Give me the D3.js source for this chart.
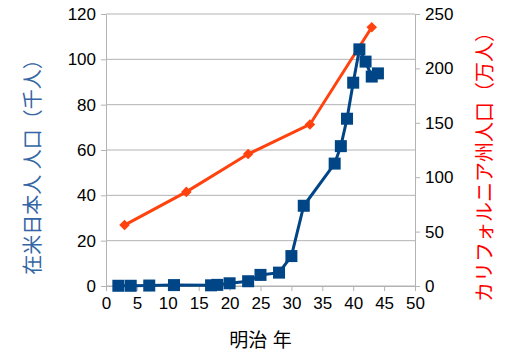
<!DOCTYPE html>
<html>
<head>
<meta charset="utf-8">
<script src="https://cdn.jsdelivr.net/npm/d3@7"></script>
<style>
  body { margin: 0; background: #fff; }
  text { font-family: "Liberation Sans", "Noto Sans CJK JP", sans-serif; }
</style>
</head>
<body>
<div id="chart"></div>
<script>
// 在米日本人 人口 (千人) by 明治 year
const jpYears = [2, 4, 7, 11, 17, 18, 20, 23, 25, 28, 30, 32, 37, 38, 39, 40, 41, 42, 43, 44];
const jpPop = [0.1, 0.1, 0.2, 0.4, 0.3, 0.5, 1.2, 2.1, 4.9, 5.9, 13.2, 35.4, 54, 61.7, 73.8, 89.7, 104.4, 99, 92.4, 93.8];

// カリフォルニア州人口 (万人)
const caYears = [3, 13, 23, 33, 43];
const caPop = [56, 86.5, 121.3, 148.5, 237.8];

const xTicks = [0, 5, 10, 15, 20, 25, 30, 35, 40, 45, 50];
const yLeftTicks = [0, 20, 40, 60, 80, 100, 120];
const yRightTicks = [0, 50, 100, 150, 200, 250];

const width = 507, height = 362;
const margin = { top: 14, right: 92, bottom: 76, left: 106 };
const w = width - margin.left - margin.right;
const h = height - margin.top - margin.bottom;

const svg = d3.select('#chart').append('svg')
    .attr('width', width)
    .attr('height', height);

const g = svg.append('g')
    .attr('transform', 'translate(' + margin.left + ',' + margin.top + ')');

const x = d3.scaleLinear().domain([0, 50]).range([0, w]);
const yL = d3.scaleLinear().domain([0, 120]).range([h, 0]);
const yR = d3.scaleLinear().domain([0, 250]).range([h, 0]);

// gridlines
g.selectAll('.grid')
    .data(yLeftTicks)
    .enter()
    .append('line')
    .attr('x1', 0).attr('x2', w)
    .attr('y1', d => yL(d)).attr('y2', d => yL(d))
    .attr('stroke', '#b3b3b3')
    .attr('stroke-width', 1);

function styleAxis(sel) {
    sel.select('.domain').attr('stroke', '#b3b3b3');
    sel.selectAll('.tick line').attr('stroke', '#b3b3b3');
    sel.selectAll('text')
        .attr('fill', '#000')
        .style('font-size', '17px');
}

g.append('g')
    .attr('transform', 'translate(0,' + h + ')')
    .call(d3.axisBottom(x).tickValues(xTicks).tickSize(5).tickSizeOuter(0).tickPadding(6))
    .call(styleAxis);

g.append('g')
    .call(d3.axisLeft(yL).tickValues(yLeftTicks).tickSize(5).tickSizeOuter(0).tickPadding(5))
    .call(styleAxis);

g.append('g')
    .attr('transform', 'translate(' + w + ',0)')
    .call(d3.axisRight(yR).tickValues(yRightTicks).tickSize(5).tickSizeOuter(0).tickPadding(5))
    .call(styleAxis);

// California line
const caData = caYears.map((d, i) => ({ x: d, y: caPop[i] }));
g.append('path')
    .datum(caData)
    .attr('fill', 'none')
    .attr('stroke', '#ff420e')
    .attr('stroke-width', 3)
    .attr('d', d3.line().x(d => x(d.x)).y(d => yR(d.y)));

g.selectAll('.ca')
    .data(caData)
    .enter()
    .append('path')
    .attr('transform', d => 'translate(' + x(d.x) + ',' + yR(d.y) + ') rotate(45)')
    .attr('d', d3.symbol(d3.symbolSquare, 56))
    .attr('fill', '#ff420e');

// Japanese line
const jpData = jpYears.map((d, i) => ({ x: d, y: jpPop[i] }));
g.append('path')
    .datum(jpData)
    .attr('fill', 'none')
    .attr('stroke', '#004586')
    .attr('stroke-width', 3)
    .attr('d', d3.line().x(d => x(d.x)).y(d => yL(d.y)));

g.selectAll('.jp')
    .data(jpData)
    .enter()
    .append('rect')
    .attr('x', d => x(d.x) - 6)
    .attr('y', d => yL(d.y) - 6)
    .attr('width', 12)
    .attr('height', 12)
    .attr('fill', '#004586');

// axis titles
svg.append('text')
    .attr('x', margin.left + w / 2)
    .attr('y', 347)
    .attr('text-anchor', 'middle')
    .style('font-size', '19px')
    .attr('fill', '#000')
    .text('明治 年');

svg.append('text')
    .attr('transform', 'translate(40,162) rotate(-90)')
    .attr('text-anchor', 'middle')
    .style('font-size', '20px')
    .attr('fill', '#3465a4')
    .text('在米日本人 人口（千人）');

svg.append('text')
    .attr('transform', 'translate(492,162) rotate(-90)')
    .attr('text-anchor', 'middle')
    .style('font-size', '20px')
    .attr('fill', '#ff0000')
    .text('カリフォルニア州人口（万人）');
</script>
</body>
</html>
